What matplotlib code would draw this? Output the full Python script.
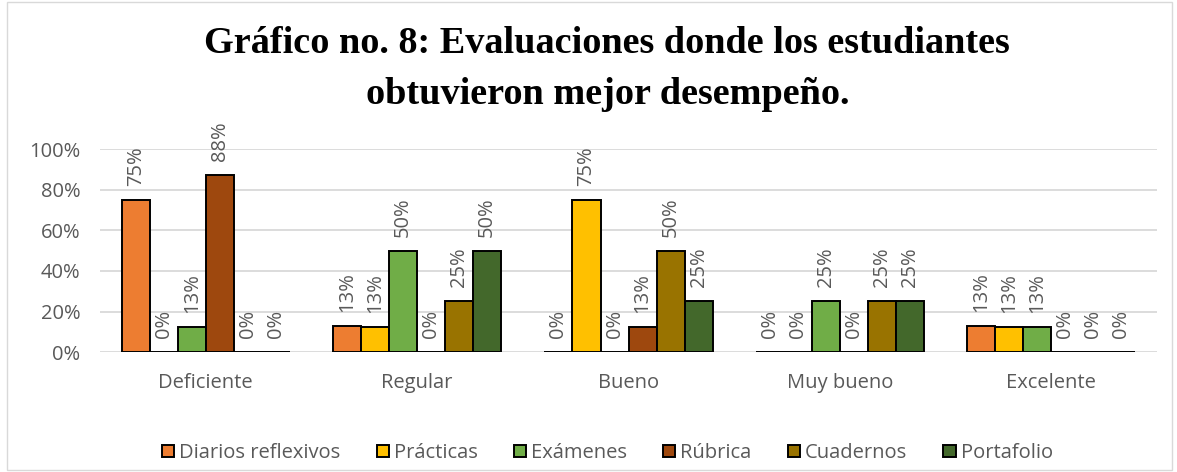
import numpy as np
import matplotlib.pyplot as plt
from matplotlib.patches import Rectangle

# data
categories = ["Deficiente", "Regular", "Bueno", "Muy bueno", "Excelente"]
series_names = ["Diarios reflexivos", "Prácticas", "Exámenes", "Rúbrica", "Cuadernos", "Portafolio"]
diarios = [0.75, 0.13, 0.0, 0.0, 0.13]
practicas = [0.0, 0.125, 0.75, 0.0, 0.125]
examenes = [0.125, 0.50, 0.0, 0.25, 0.125]
rubrica = [0.875, 0.0, 0.125, 0.0, 0.0]
cuadernos = [0.0, 0.25, 0.50, 0.25, 0.0]
portafolio = [0.0, 0.50, 0.25, 0.25, 0.0]
colors = ["#ED7D31", "#FFC000", "#70AD47", "#9E480E", "#997300", "#43682B"]

series = [diarios, practicas, examenes, rubrica, cuadernos, portafolio]

fig = plt.figure(figsize=(11.77, 4.72), dpi=100)
ax = fig.add_axes([0.085, 0.254, 0.898, 0.43])

x = np.arange(len(categories))
width = 0.1325
gray = "#595959"
fsize = 14.5

for i, (name, vals, col) in enumerate(zip(series_names, series, colors)):
    pos = x + (i - 2.5) * width
    ax.bar(pos, vals, width, color=col, edgecolor="black", linewidth=1.4, label=name, zorder=3)
    for px, v in zip(pos, vals):
        ax.annotate(f"{int(v * 100 + 0.5)}%", (px, v), xytext=(0, 10), textcoords="offset points",
                    rotation=90, ha="center", va="bottom", fontsize=fsize, color=gray,
                    family="Open Sans")

ax.set_xlim(-0.5, 4.5)
ax.set_ylim(0, 1)
ax.set_yticks(np.arange(0, 1.01, 0.2))
ax.set_yticklabels([f"{int(round(t * 100))}%" for t in np.arange(0, 1.01, 0.2)])
ax.set_xticks(x)
ax.set_xticklabels(categories)
for lab in ax.get_xticklabels() + ax.get_yticklabels():
    lab.set_family("Open Sans")
    lab.set_fontsize(fsize)
    lab.set_color(gray)
ax.tick_params(length=0, pad=14)
ax.tick_params(axis="x", pad=15)
ax.grid(axis="y", color="#d9d9d9", linewidth=1.3, zorder=0)
for s in ax.spines.values():
    s.set_visible(False)

fig.text(0.516, 0.945, "Gráfico no. 8: Evaluaciones donde los estudiantes\nobtuvieron mejor desempeño.",
         ha="center", va="top", fontsize=27.5, fontweight="bold", family="Liberation Serif",
         linespacing=1.6)

leg = fig.legend(loc="center", bbox_to_anchor=(0.516, 0.04), ncol=6, frameon=False,
                 prop={"family": "Open Sans", "size": fsize}, handlelength=0.6, handleheight=0.6,
                 handletextpad=0.25, columnspacing=1.8)
for t in leg.get_texts():
    t.set_color(gray)
for h in leg.legend_handles:
    h.set_linewidth(1.4)

fig.patches.append(Rectangle((0.006, 0.004), 0.99, 0.992, transform=fig.transFigure,
                             fill=False, edgecolor="#d9d9d9", linewidth=1))

fig.savefig("out.png", dpi=100)
